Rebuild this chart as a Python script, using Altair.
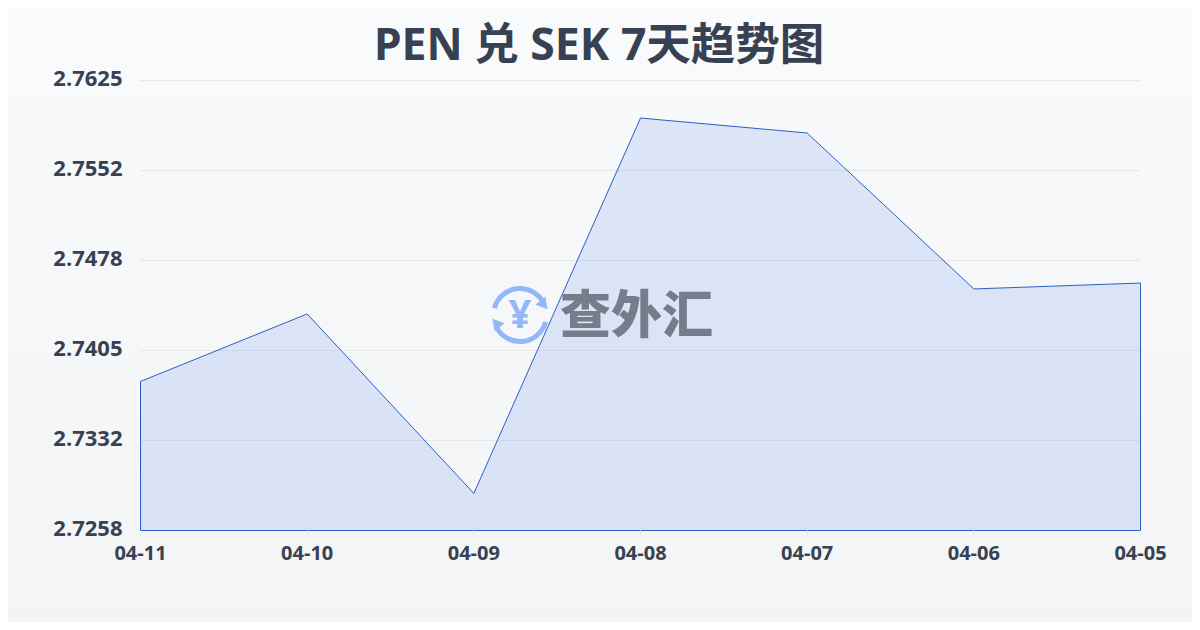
import math
import altair as alt
import pandas as pd

dates = ["04-11", "04-10", "04-09", "04-08", "04-07", "04-06", "04-05"]
rates = [2.73797, 2.74347, 2.72884, 2.75944, 2.75822, 2.74551, 2.74599]
y_ticks = [2.72582, 2.733156, 2.740492, 2.747828, 2.755164, 2.7625]
title_text = "PEN 兑 SEK 7天趋势图"
watermark_text = "查外汇"
yen = "¥"

FONT = "Open Sans, Noto Sans CJK SC, sans-serif"
CJK = "Noto Sans CJK SC, sans-serif"
INK = "#374151"
LOGO = "#93b8f8"

df = pd.DataFrame({"date": dates, "rate": rates, "base": [y_ticks[0]] * len(dates)})
ticks_df = pd.DataFrame({"v": y_ticks})
one = alt.Data(values=[{"k": 1}])

x_enc = alt.X(
    "date:N", sort=dates, title=None,
    scale=alt.Scale(type="point", padding=0),
    axis=alt.Axis(labelAngle=0, labelFont=FONT, labelFontSize=20, labelFontWeight="bold",
                  labelColor=INK, labelPadding=5, tickColor="#e5e7eb", tickSize=8,
                  domain=False, grid=False, zindex=1, labelOverlap=False),
)
y_scale = alt.Scale(domain=[y_ticks[0], y_ticks[-1]], nice=False, zero=False)
y_axis = alt.Axis(values=y_ticks, format=".4f", labelFont=FONT, labelFontSize=22,
                  labelFontWeight="bold", labelColor=INK, labelPadding=18, labelOffset=-2,
                  ticks=False, domain=False, grid=False, zindex=1, labelOverlap=False)

background = alt.Chart(one).mark_rect(
    clip=False,
    fill=alt.Gradient(gradient="linear", x1=0, y1=0, x2=0, y2=1,
                      stops=[alt.GradientStop(color="#f9fafb", offset=0),
                             alt.GradientStop(color="#f3f4f6", offset=1)]),
).encode(x=alt.value(-132), x2=alt.value(1052), y=alt.value(-72), y2=alt.value(542))

grid = alt.Chart(ticks_df).mark_rule(color="#e5e7eb", strokeWidth=1, yOffset=0.5).encode(
    y=alt.Y("v:Q", title=None, scale=y_scale, axis=y_axis),
)

area = alt.Chart(df).mark_area(
    fill="#2563eb", fillOpacity=0.13, stroke="#2b5fc4", strokeWidth=1, strokeOpacity=1,
    interpolate="linear", xOffset=0.5, yOffset=0.5, y2Offset=0.5,
).encode(x=x_enc, y=alt.Y("rate:Q", title=None, scale=y_scale, axis=y_axis),
         y2=alt.Y2("base:Q"))

title = alt.Chart(one).mark_text(
    text=title_text, font=FONT, fontSize=44.5, fontWeight="bold", color=INK, align="center",
    baseline="middle",
).encode(x=alt.value(459), y=alt.value(-33))

wm = alt.Chart(one).mark_text(
    text=watermark_text, font=CJK, fontSize=51, fontWeight=900, color="#6b7280",
    opacity=0.9, align="left", baseline="middle",
).encode(x=alt.value(420), y=alt.value(238))

cx, cy = 380, 235
arc_top = alt.Chart(one).mark_arc(
    color=LOGO, radius=29, radius2=24,
    theta=math.radians(285), theta2=math.radians(425),
).encode(x=alt.value(cx), y=alt.value(cy))
arc_bot = alt.Chart(one).mark_arc(
    color=LOGO, radius=29, radius2=24,
    theta=math.radians(105), theta2=math.radians(245),
).encode(x=alt.value(cx), y=alt.value(cy))
arrow_a = alt.Chart(one).mark_point(
    shape="triangle-up", filled=True, color=LOGO, opacity=1, size=170, angle=140,
).encode(x=alt.value(cx + 24), y=alt.value(cy - 10))
arrow_b = alt.Chart(one).mark_point(
    shape="triangle-up", filled=True, color=LOGO, opacity=1, size=170, angle=320,
).encode(x=alt.value(cx - 24), y=alt.value(cy + 8))
yen_mark = alt.Chart(one).mark_text(
    text=yen, font=FONT, fontSize=40, fontWeight="bold", color=LOGO, align="center",
    baseline="middle",
).encode(x=alt.value(cx), y=alt.value(cy + 1))

chart = alt.layer(background, grid, area, arc_top, arc_bot, arrow_a, arrow_b, yen_mark, wm, title).properties(
    width=1000, height=450,
    autosize=alt.AutoSizeParams(type="none"),
    padding={"left": 132, "top": 72, "right": 52, "bottom": 92},
    background="#f6f7f9",
).configure_view(stroke=None)

chart.save("out.html", embed_options={"renderer": "svg", "actions": False})
